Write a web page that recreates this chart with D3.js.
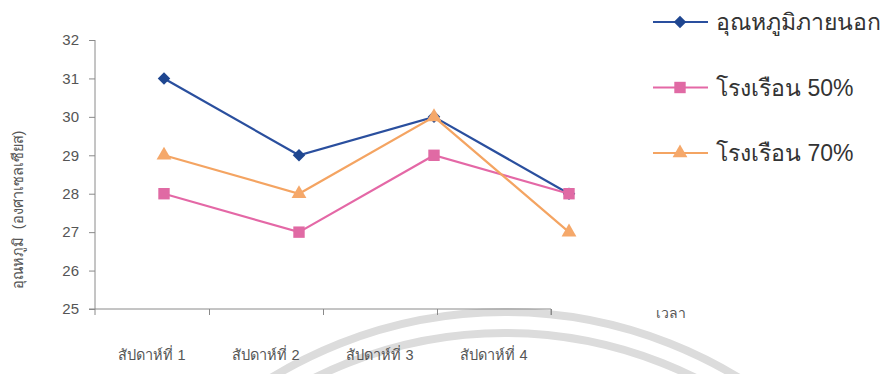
<!DOCTYPE html>
<html>
<head>
<meta charset="utf-8">
<script src="https://cdn.jsdelivr.net/npm/d3@7"></script>
<style>
  html, body { margin: 0; padding: 0; background: #fff; }
  svg { display: block; }
  text { font-family: "Liberation Sans", Arial, "Noto Sans", sans-serif; }
</style>
</head>
<body>
<svg id="chart" width="896" height="374"></svg>
<script>
// Weekly temperatures (°C)
const weeks = ["สัปดาห์ที่ 1", "สัปดาห์ที่ 2", "สัปดาห์ที่ 3", "สัปดาห์ที่ 4"];
const seriesNames = ["อุณหภูมิภายนอก", "โรงเรือน 50%", "โรงเรือน 70%"];
const outside = [31, 29, 30, 28];
const house50 = [28, 27, 29, 28];
const house70 = [29, 28, 30, 27];
const yTicks = [25, 26, 27, 28, 29, 30, 31, 32];
const yTitle = "อุณหภูมิ  (องศาเซลเซียส)";
const xTitle = "เวลา";

// Diamond = square turned 45°
const series = [
  { name: seriesNames[0], values: outside, color: "#2a4f9e", marker: "#1f4690", symbol: d3.symbolSquare, size: 78, rot: 45 },
  { name: seriesNames[1], values: house50, color: "#e468a6", marker: "#e06aa4", symbol: d3.symbolSquare, size: 130, rot: 0 },
  { name: seriesNames[2], values: house70, color: "#f4a462", marker: "#f5a86a", symbol: d3.symbolTriangle, size: 95, rot: 0 }
];

const svg = d3.select("#chart");

// Decorative concentric rings behind the plot
const ring = svg.append("g");
[448, 427].forEach(r => {
  ring.append("circle")
    .attr("cx", 505).attr("cy", 760).attr("r", r)
    .attr("fill", "none").attr("stroke", "#dcdcdc").attr("stroke-width", 8);
});

const y = d3.scaleLinear().domain([25, 32]).range([309, 40]);
const xBand = d3.scaleBand().domain(weeks).range([95, 551]);
const xPts = d3.scalePoint().domain(weeks).range([164, 569]);
const xEdge = d3.scaleLinear().domain([0, weeks.length]).range([95, 551]);

// Y axis
const yAxis = svg.append("g").attr("transform", "translate(95,0)")
  .call(d3.axisLeft(y).tickValues(yTicks).tickFormat(d3.format("d")).tickSize(6).tickPadding(10));
yAxis.select(".domain").attr("stroke", "#8a8a8a").attr("d", "M0,40V315");
yAxis.selectAll(".tick line").attr("stroke", "#8a8a8a");
yAxis.selectAll(".tick text").attr("fill", "#555").style("font-size", "15px");

// X axis: ticks on category boundaries
const xAxis = svg.append("g").attr("transform", "translate(0,309)")
  .call(d3.axisBottom(xEdge).tickValues(d3.range(1, weeks.length + 1)).tickFormat("").tickSize(6));
xAxis.select(".domain").attr("stroke", "#8a8a8a").attr("d", "M89,0H551V6");
xAxis.selectAll(".tick line").attr("stroke", "#8a8a8a");

// Category labels centered in each band
const xLab = svg.append("g").attr("transform", "translate(0,309)")
  .call(d3.axisBottom(xBand).tickSize(0).tickPadding(41));
xLab.select(".domain").remove();
xLab.selectAll(".tick text").attr("fill", "#555").style("font-size", "14.5px");

// Axis titles
svg.append("text").attr("x", 656).attr("y", 318)
  .attr("fill", "#555").style("font-size", "14px").text(xTitle);
svg.append("text")
  .attr("transform", "translate(23,210) rotate(-90)")
  .attr("text-anchor", "middle")
  .attr("fill", "#555").style("font-size", "14.5px").style("white-space", "pre")
  .text(yTitle);

// Lines and markers
const line = d3.line().x((d, i) => xPts(weeks[i])).y(d => y(d));
series.forEach(s => {
  svg.append("path").datum(s.values)
    .attr("d", line).attr("fill", "none")
    .attr("stroke", s.color).attr("stroke-width", 2.2);
});
series.forEach(s => {
  svg.append("g").selectAll("path").data(s.values).join("path")
    .attr("transform", (d, i) => `translate(${xPts(weeks[i])},${y(d)}) rotate(${s.rot})`)
    .attr("d", d3.symbol(s.symbol, s.size))
    .attr("fill", s.marker);
});

// Legend
const legend = svg.append("g");
series.forEach((s, i) => {
  const ly = 22 + i * 65.5;
  const g = legend.append("g").attr("transform", `translate(0,${ly})`);
  g.append("line").attr("x1", 653).attr("x2", 708).attr("y1", 0).attr("y2", 0)
    .attr("stroke", s.color).attr("stroke-width", 2.2);
  g.append("path").attr("transform", `translate(680,0) rotate(${s.rot})`)
    .attr("d", d3.symbol(s.symbol, s.size)).attr("fill", s.marker);
  g.append("text").attr("x", 716).attr("y", 8)
    .attr("fill", "#333").style("font-size", "23px").text(s.name);
});
</script>
</body>
</html>
